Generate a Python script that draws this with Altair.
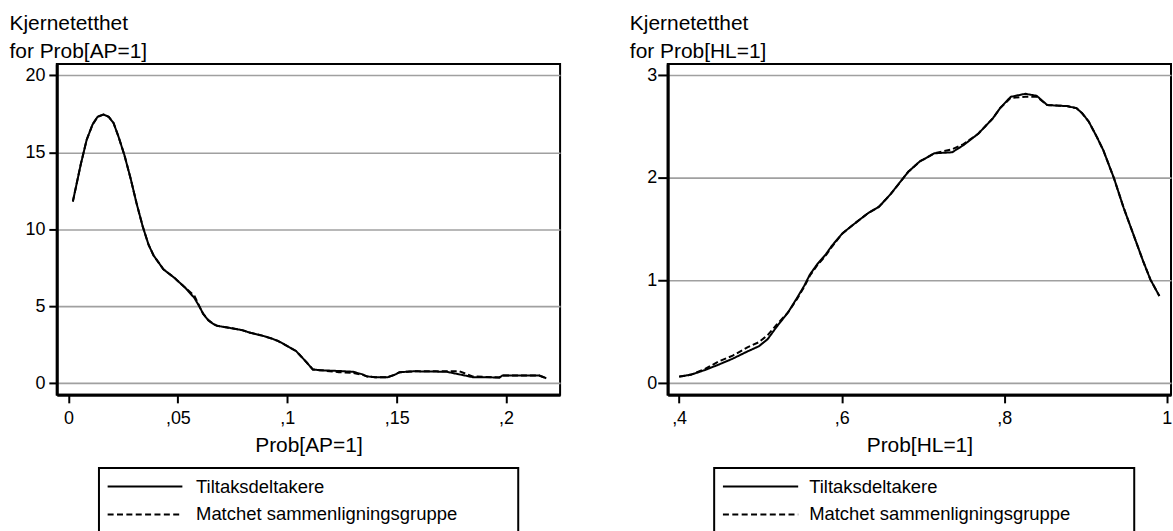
import altair as alt
import pandas as pd

SERIES = ["Tiltaksdeltakere", "Matchet sammenligningsgruppe"]

# Panel 1: Prob[AP=1]
x_ap = [0.002, 0.0056, 0.0083, 0.011, 0.0133, 0.016, 0.0184, 0.0206, 0.0229, 0.0256,
        0.0284, 0.0311, 0.0339, 0.0366, 0.0389, 0.0434, 0.0484, 0.0534, 0.0575, 0.0598,
        0.0616, 0.0639, 0.0662, 0.068, 0.0744, 0.0794, 0.0826, 0.089, 0.093, 0.0958,
        0.099, 0.104, 0.1086, 0.1117, 0.115, 0.1236, 0.13, 0.1345, 0.1363, 0.14,
        0.146, 0.149, 0.1514, 0.1578, 0.1728, 0.1787, 0.1847, 0.197, 0.1983, 0.2152, 0.2184]
ap_tiltak = [11.8, 14.2, 15.8, 16.8, 17.3, 17.45, 17.3, 16.9, 16.0, 14.8,
             13.3, 11.7, 10.2, 9.0, 8.3, 7.4, 6.85, 6.2, 5.55, 5.0,
             4.5, 4.1, 3.85, 3.73, 3.58, 3.45, 3.3, 3.08, 2.9, 2.75,
             2.5, 2.1, 1.4, 0.9, 0.85, 0.8, 0.75, 0.58, 0.45, 0.4,
             0.4, 0.55, 0.72, 0.78, 0.75, 0.58, 0.4, 0.38, 0.5, 0.5, 0.33]
ap_matchet = [11.8, 14.2, 15.8, 16.8, 17.3, 17.45, 17.3, 16.9, 16.0, 14.8,
              13.3, 11.7, 10.2, 9.0, 8.3, 7.4, 6.85, 6.2, 5.7, 5.0,
              4.5, 4.1, 3.85, 3.73, 3.58, 3.45, 3.3, 3.08, 2.9, 2.75,
              2.5, 2.1, 1.4, 0.9, 0.85, 0.72, 0.68, 0.55, 0.45, 0.4,
              0.4, 0.55, 0.72, 0.78, 0.78, 0.78, 0.45, 0.38, 0.5, 0.5, 0.33]

# Panel 2: Prob[HL=1]
x_hl = [0.400, 0.415, 0.432, 0.448, 0.466, 0.484, 0.498, 0.509, 0.520, 0.534,
        0.545, 0.554, 0.561, 0.570, 0.580, 0.588, 0.601, 0.615, 0.633, 0.646,
        0.660, 0.673, 0.682, 0.696, 0.714, 0.736, 0.750, 0.768, 0.786, 0.795,
        0.808, 0.826, 0.840, 0.853, 0.877, 0.889, 0.896, 0.904, 0.914, 0.922,
        0.935, 0.947, 0.959, 0.971, 0.980, 0.991]
hl_tiltak = [0.065, 0.085, 0.13, 0.18, 0.24, 0.31, 0.36, 0.43, 0.55, 0.69,
             0.83, 0.95, 1.06, 1.16, 1.25, 1.34, 1.46, 1.55, 1.66, 1.72,
             1.84, 1.97, 2.06, 2.16, 2.24, 2.25, 2.32, 2.43, 2.58, 2.68,
             2.79, 2.82, 2.80, 2.71, 2.70, 2.68, 2.63, 2.55, 2.40, 2.27,
             2.00, 1.71, 1.45, 1.19, 1.01, 0.85]
hl_matchet = [0.065, 0.085, 0.14, 0.21, 0.27, 0.35, 0.40, 0.47, 0.57, 0.69,
              0.82, 0.94, 1.05, 1.15, 1.24, 1.33, 1.46, 1.55, 1.66, 1.72,
              1.84, 1.97, 2.06, 2.16, 2.24, 2.28, 2.33, 2.43, 2.58, 2.68,
              2.78, 2.79, 2.79, 2.71, 2.70, 2.68, 2.63, 2.55, 2.40, 2.27,
              2.00, 1.71, 1.45, 1.19, 1.01, 0.85]

ap_xticks = [0, 0.05, 0.1, 0.15, 0.2]
hl_xticks = [0.4, 0.6, 0.8, 1.0]
ap_yticks = [0, 5, 10, 15, 20]
hl_yticks = [0, 1, 2, 3]

FONT = "Liberation Sans"
W, H = 505, 332
LABEL_EXPR = "replace(format(datum.value, '~g'), '0.', ',')"


def long_frame(x, a, b):
    return pd.DataFrame({
        "x": list(x) + list(x),
        "d": list(a) + list(b),
        "serie": [SERIES[0]] * len(x) + [SERIES[1]] * len(x),
    })


def panel(df, xdom, xticks, ydom, yticks, xtitle, ytitle, ytitle_x,
          ylab_pad, ytick_size, leg):
    lines = alt.Chart(df).mark_line(color="black", strokeWidth=2).encode(
        x=alt.X("x:Q",
                scale=alt.Scale(domain=xdom, nice=False, zero=False),
                axis=alt.Axis(values=xticks, labelExpr=LABEL_EXPR, title=xtitle,
                              grid=False, tickSize=8, labelPadding=7,
                              labelFlush=False, titleY=56.4,
                              titleBaseline="alphabetic")),
        y=alt.Y("d:Q",
                scale=alt.Scale(domain=ydom, nice=False, zero=False),
                axis=alt.Axis(values=yticks, title=ytitle, titleAngle=0,
                              titleAlign="left", titleBaseline="top",
                              titleX=ytitle_x, titleY=-51.7, titleLineHeight=27.7,
                              grid=True, gridColor="#a0a0a0", gridWidth=1.6,
                              tickSize=ytick_size, labelPadding=ylab_pad)),
        strokeDash=alt.StrokeDash("serie:N",
                                  scale=alt.Scale(domain=SERIES, range=[[1, 0], [6, 3]]),
                                  legend=None),
    )
    one = pd.DataFrame({"k": [0]})
    box = alt.Chart(one).mark_rect(fill="white", stroke="black", strokeWidth=2).encode(
        x=alt.value(leg["bx0"]), x2=alt.value(leg["bx1"]),
        y=alt.value(405.3), y2=alt.value(471))
    r1 = alt.Chart(one).mark_rule(color="black", strokeWidth=2).encode(
        x=alt.value(leg["sx0"]), x2=alt.value(leg["sx1"]), y=alt.value(424))
    r2 = alt.Chart(one).mark_rule(color="black", strokeWidth=2, strokeDash=[6, 3.4]).encode(
        x=alt.value(leg["sx0"]), x2=alt.value(leg["sx1"]), y=alt.value(452))
    t1 = alt.Chart(one).mark_text(align="left", baseline="middle", font=FONT,
                                  fontSize=18.5, color="black").encode(
        x=alt.value(leg["tx"]), y=alt.value(424.7), text=alt.value(SERIES[0]))
    t2 = alt.Chart(one).mark_text(align="left", baseline="middle", font=FONT,
                                  fontSize=18.5, color="black").encode(
        x=alt.value(leg["tx"]), y=alt.value(451.3), text=alt.value(SERIES[1]))
    return alt.layer(lines, box, r1, r2, t1, t2).properties(width=W, height=H)


left = panel(long_frame(x_ap, ap_tiltak, ap_matchet),
             [-0.00533, 0.2247], ap_xticks, [-0.75, 20.73], ap_yticks,
             "Prob[AP=1]", ["Kjernetetthet", "for Prob[AP=1]"], -48,
             4, 8, {"bx0": 42.3, "bx1": 463, "sx0": 51, "sx1": 126, "tx": 139.7})
right = panel(long_frame(x_hl, hl_tiltak, hl_matchet),
              [0.386, 1.0053], hl_xticks, [-0.1125, 3.11], hl_yticks,
              "Prob[HL=1]", ["Kjernetetthet", "for Prob[HL=1]"], -38.5,
              1, 10, {"bx0": 46.6, "bx1": 468.1, "sx0": 55.4, "sx1": 130.9, "tx": 141.9})

chart = alt.hconcat(left, right, spacing=108, bounds="flush").configure_view(
    stroke="black", strokeWidth=2
).configure_axis(
    domainColor="black", domainWidth=3, tickColor="black", tickWidth=2,
    labelColor="black", titleColor="black", labelFont=FONT, titleFont=FONT,
    labelFontSize=18, titleFontSize=21, titleFontWeight="normal",
).properties(
    padding={"left": 8, "top": 10.3, "right": 0, "bottom": 0}
)

chart.save("out.html", embed_options={"renderer": "svg", "actions": False})
